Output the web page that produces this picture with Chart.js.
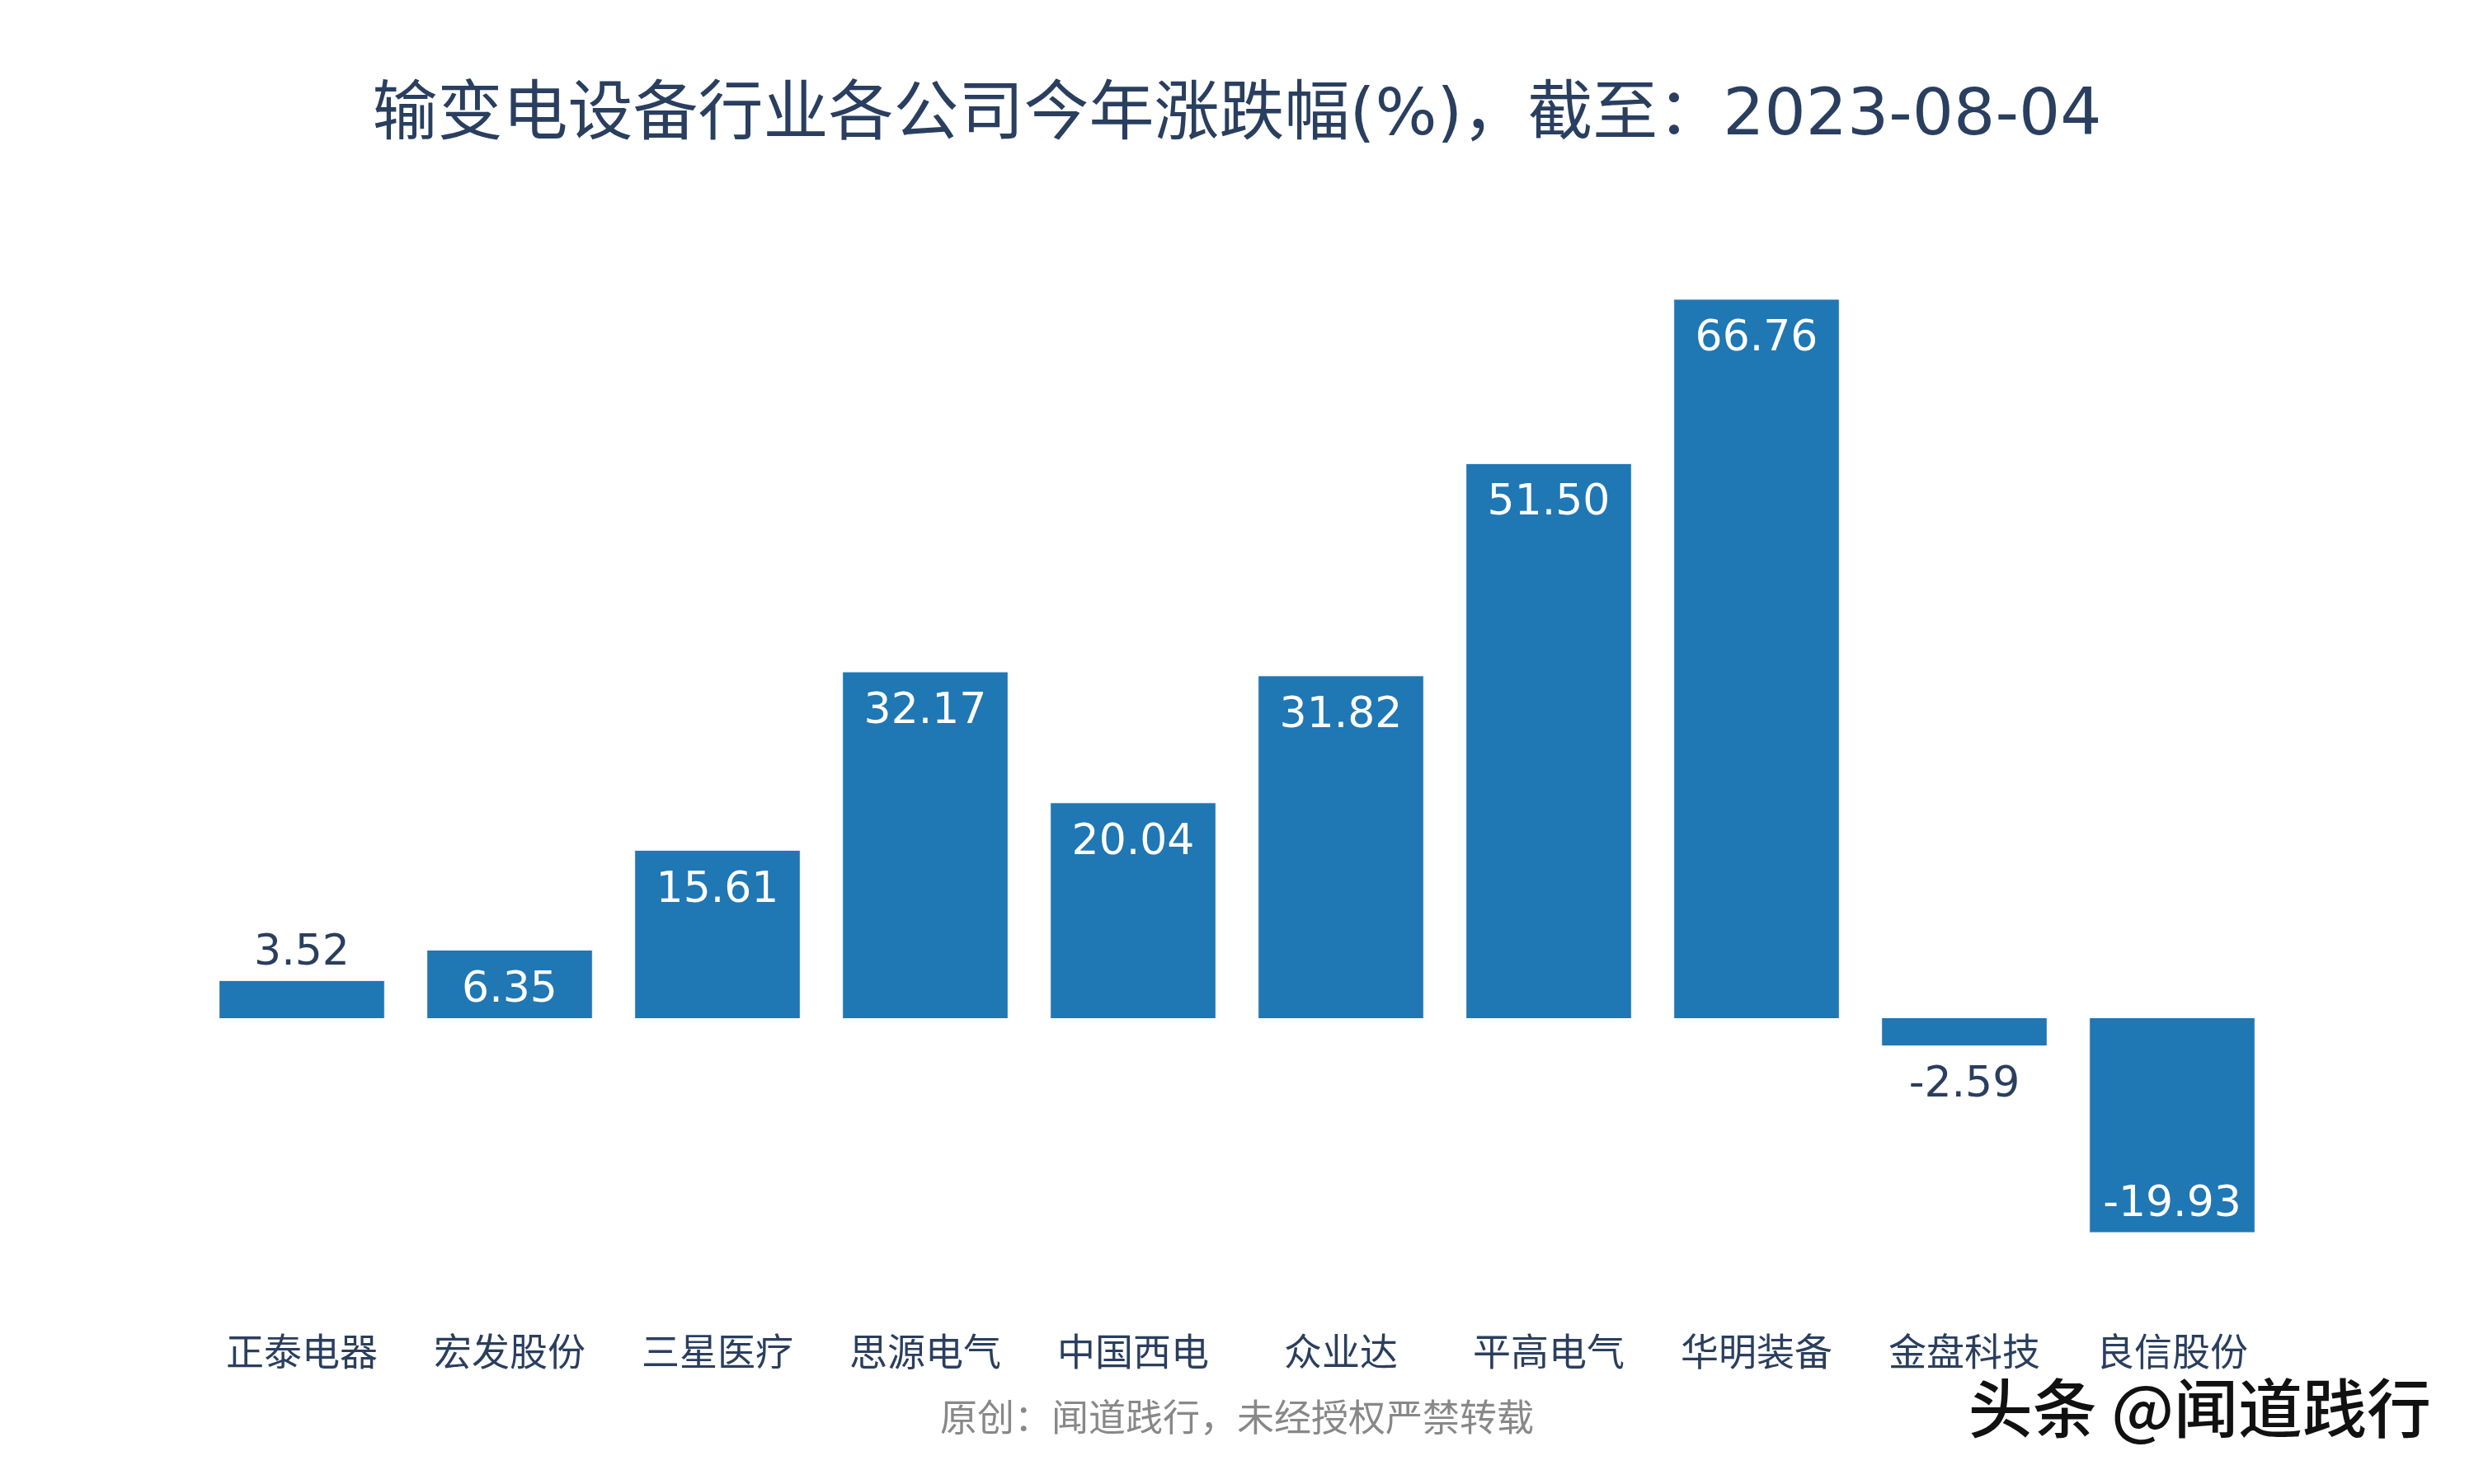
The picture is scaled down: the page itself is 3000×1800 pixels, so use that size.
<!DOCTYPE html>
<html>
<head>
<meta charset="utf-8">
<script src="https://cdn.jsdelivr.net/npm/chart.js@4.4.0/dist/chart.umd.min.js"></script>
<style>
    html, body { margin: 0; padding: 0; background: #fff; }
    #wrap { width: 3000px; height: 1800px; }
</style>
</head>
<body>
<div id="wrap"><canvas id="changeChart" width="3000" height="1800"></canvas></div>
<script>
const companies = ['正泰电器', '宏发股份', '三星医疗', '思源电气', '中国西电', '众业达', '平高电气', '华明装备', '金盘科技', '良信股份'];
const changePct = [3.52, 6.35, 15.61, 32.17, 20.04, 31.82, 51.50, 66.76, -2.59, -19.93];

const FONT = '"DejaVu Sans", "Noto Sans CJK SC", sans-serif';
const DARK = '#2a3f5f';

// value labels: inside the bar end when there is room, outside otherwise
const barLabels = {
    id: 'barLabels',
    afterDatasetsDraw(chart) {
        const ctx = chart.ctx;
        const meta = chart.getDatasetMeta(0);
        ctx.save();
        ctx.font = '52px ' + FONT;
        ctx.textAlign = 'center';
        ctx.textBaseline = 'middle';
        meta.data.forEach((bar, i) => {
            const v = changePct[i];
            const h = Math.abs(bar.base - bar.y);
            const inside = h > 70;
            let y;
            if (v >= 0) {
                y = inside ? bar.y + 49 : bar.y - 33;
            } else {
                y = inside ? bar.y - 34 : bar.y + 48;
            }
            ctx.fillStyle = inside ? '#ffffff' : DARK;
            ctx.fillText(v.toFixed(2), bar.x, y);
        });
        ctx.restore();
    }
};

const watermark = {
    id: 'watermark',
    afterDraw(chart) {
        const ctx = chart.ctx;
        ctx.save();
        ctx.font = '500 78px "Noto Sans CJK SC", sans-serif';
        ctx.textAlign = 'right';
        ctx.textBaseline = 'middle';
        ctx.lineWidth = 5;
        ctx.strokeStyle = 'rgba(255,255,255,0.9)';
        ctx.strokeText('头条 @闻道践行', 2948, 1708);
        ctx.fillStyle = '#111';
        ctx.fillText('头条 @闻道践行', 2948, 1708);
        ctx.restore();
    }
};

const ctx = document.getElementById('changeChart').getContext('2d');
const changeChart = new Chart(ctx, {
    type: 'bar',
    data: {
        labels: companies,
        datasets: [{
            label: '涨跌幅',
            data: changePct,
            backgroundColor: '#1f77b4',
            borderColor: '#E5ECF6',
            borderWidth: 1,
            barPercentage: 0.8,
            categoryPercentage: 1.0
        }]
    },
    options: {
        responsive: false,
        animation: false,
        layout: {
            padding: { left: 240, right: 240, top: 0, bottom: 0 }
        },
        plugins: {
            legend: { display: false },
            tooltip: { enabled: false },
            title: {
                display: true,
                text: '输变电设备行业各公司今年涨跌幅(%)，截至：2023-08-04',
                color: DARK,
                font: { family: FONT, size: 79, weight: 'normal', lineHeight: 1.2 },
                padding: { top: 95, bottom: 110 }
            }
        },
        scales: {
            x: {
                grid: { display: false, drawTicks: false },
                border: { display: false },
                ticks: {
                    color: DARK,
                    font: { family: FONT, size: 46, lineHeight: 1.2 },
                    padding: 58
                },
                title: {
                    display: true,
                    text: '原创：闻道践行，未经授权严禁转载',
                    color: '#888888',
                    font: { family: FONT, size: 45, lineHeight: 1.2 },
                    padding: { top: -33, bottom: 49 }
                }
            },
            y: {
                display: false,
                min: -24.77,
                max: 71.56
            }
        }
    },
    plugins: [barLabels, watermark]
});
</script>
</body>
</html>
